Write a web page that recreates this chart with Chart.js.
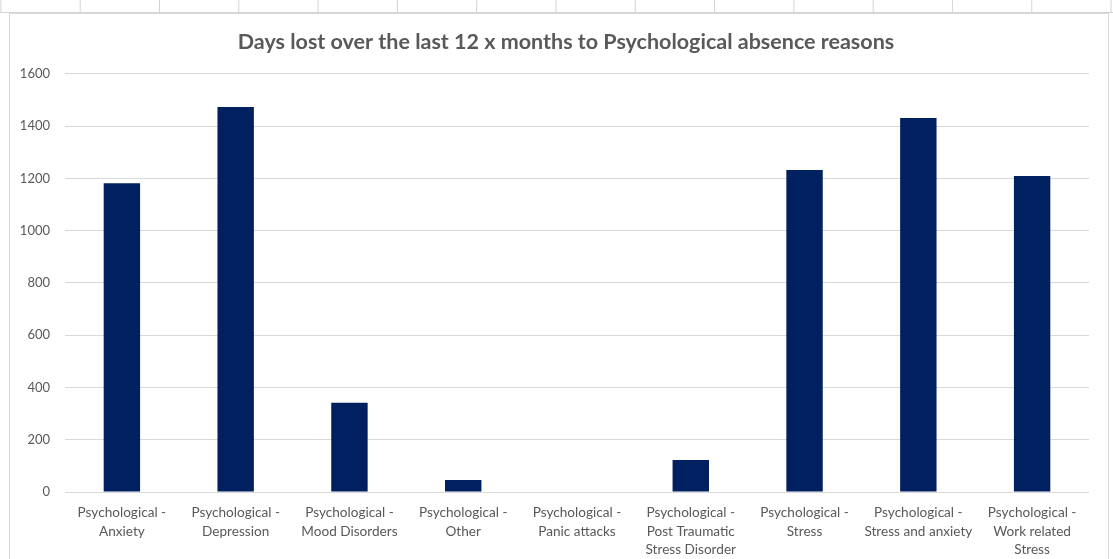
<!DOCTYPE html>
<html>
<head>
<meta charset="utf-8">
<script src="https://cdn.jsdelivr.net/npm/chart.js@4"></script>
<style>
  html, body { margin: 0; padding: 0; background: #fff; overflow: hidden; }
  #frame {
    position: absolute; left: 9px; top: 13px; width: 1100px; height: 560px;
    border: 1px solid #d9d9d9; box-sizing: border-box; background: #fff;
  }
  #sheet {
    position: absolute; left: 0; top: 0; width: 1113px; height: 13px;
    border-bottom: 1px solid #d4d4d4; box-sizing: border-box;
    background-image: linear-gradient(to right, #d4d4d4 1px, transparent 1px);
    background-size: 79.3px 100%; background-position: 159px 0;
  }
  #wrap { position: absolute; left: 1px; top: 1px; width: 1098px; height: 545px; }
</style>
</head>
<body>
<div id="sheet"></div>
<div id="frame">
  <div id="wrap"><canvas id="absenceChart"></canvas></div>
</div>
<script>
const categories = [
  ["Psychological -", "Anxiety"],
  ["Psychological -", "Depression"],
  ["Psychological -", "Mood Disorders"],
  ["Psychological -", "Other"],
  ["Psychological -", "Panic attacks"],
  ["Psychological -", "Post Traumatic", "Stress Disorder"],
  ["Psychological -", "Stress"],
  ["Psychological -", "Stress and anxiety"],
  ["Psychological -", "Work related", "Stress"]
];
const daysLost = [1181, 1473, 341, 46, 0, 122, 1232, 1431, 1209];
const yTicks = [0, 200, 400, 600, 800, 1000, 1200, 1400, 1600];

const font = "Lato, 'Open Sans', sans-serif";
const ctx = document.getElementById("absenceChart").getContext("2d");

// Excel centres the title a little right of the canvas middle; nudge it over
const titleNudge = {
  id: "titleNudge",
  beforeDraw(chart) {
    const t = chart.titleBlock;
    if (t && !t._nudged) { t.left += 32; t.right += 0; t._nudged = true; }
  }
};

window.absenceChart = new Chart(ctx, {
  type: "bar",
  data: {
    labels: categories,
    datasets: [{
      label: "Days lost",
      data: daysLost,
      backgroundColor: "#002060",
      borderWidth: 0,
      categoryPercentage: 1,
      barPercentage: 0.32
    }]
  },
  plugins: [titleNudge],
  options: {
    responsive: true,
    maintainAspectRatio: false,
    animation: false,
    layout: { padding: { left: 0, right: 20, top: 0, bottom: 0 } },
    plugins: {
      legend: { display: false },
      tooltip: { enabled: false },
      title: {
        display: true,
        text: "Days lost over the last 12 x months to Psychological absence reasons",
        color: "#595959",
        font: { family: font, size: 21.5, weight: "bold" },
        padding: { top: 14, bottom: 19 }
      }
    },
    scales: {
      x: {
        grid: { display: false },
        border: { display: false },
        ticks: {
          color: "#595959",
          font: { family: font, size: 13.6, lineHeight: 1.33 },
          maxRotation: 0,
          autoSkip: false,
          padding: 4
        },
        afterFit: (s) => { s.height = 68; }
      },
      y: {
        min: 0,
        max: 1600,
        afterBuildTicks: (s) => { s.ticks = yTicks.map(v => ({ value: v })); },
        grid: { color: "#d9d9d9", lineWidth: 1, drawTicks: false },
        border: { display: false },
        ticks: {
          color: "#595959",
          font: { family: font, size: 13 },
          padding: 15,
          callback: (v) => String(v)
        },
        afterFit: (s) => { s.width = 54; }
      }
    }
  }
});
</script>
</body>
</html>
